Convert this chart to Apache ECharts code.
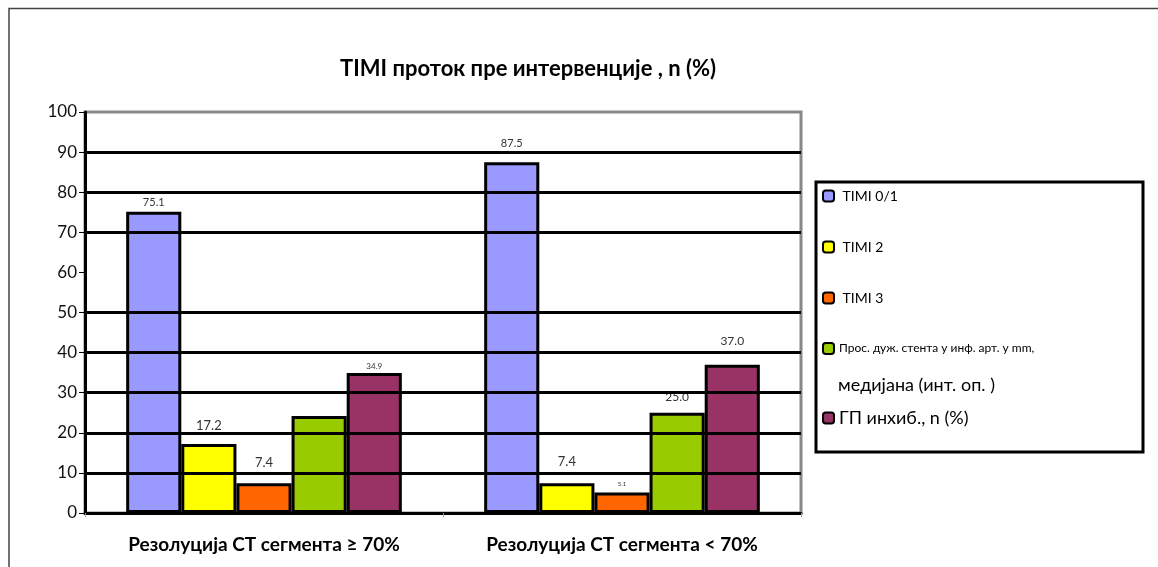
<!DOCTYPE html>
<html>
<head>
<meta charset="utf-8">
<script src="https://cdn.jsdelivr.net/npm/echarts@6/dist/echarts.min.js"></script>
<style>
    html, body { margin: 0; padding: 0; background: #fff; }
    #chart { width: 1158px; height: 567px; }
</style>
</head>
<body>
<div id="chart"></div>
<script>
// категорије на x оси
var categories = ['Резолуција СТ сегмента ≥ 70%', 'Резолуција СТ сегмента < 70%'];

// серије
var seriesNames = ['TIMI 0/1', 'TIMI 2', 'TIMI 3', 'Прос. дуж. стента у инф. арт. у mm,', 'ГП инхиб., n (%)'];
var timi01 = [75.1, 87.5];
var timi2 = [17.2, 7.4];
var timi3 = [7.4, 5.1];
var stentLength = [24.2, 25.0];
var gpInhib = [34.9, 37.0];

// y оса
var yMin = 0;
var yMax = 100;
var yStep = 10;
// хоризонталне линије (на 60 нема линије)
var gridValues = [10, 20, 30, 40, 50, 70, 80, 90];

var titleText = 'TIMI проток пре интервенције , n (%)';
var legendNote = 'медијана (инт. оп. )';

var FONT = 'Lato, "Noto Sans", sans-serif';
var colors = ['#9999ff', '#ffff00', '#ff6600', '#99cc00', '#993366'];
var allData = [timi01, timi2, timi3, stentLength, gpInhib];

// величина и размак ознака изнад стубића (серија x категорија)
var labelSize = [[11, 11], [13, 13], [13, 6], [0, 12], [8, 12]];
var labelDist = [[4, 13], [12, 15], [14, 5], [0, 10], [3, 18]];

var aoSeries = [];
for (var i = 0; i < allData.length; i++) {
    var adData = [];
    for (var j = 0; j < allData[i].length; j++) {
        adData.push({
            value: allData[i][j],
            label: {
                show: labelSize[i][j] > 0,
                fontSize: labelSize[i][j] || 10,
                distance: labelDist[i][j]
            }
        });
    }
    aoSeries.push({
        name: seriesNames[i],
        type: 'bar',
        data: adData,
        barGap: '0%',
        barCategoryGap: '23%',
        itemStyle: { color: colors[i], borderColor: '#000', borderWidth: 3 },
        label: {
            position: 'top',
            color: '#333',
            fontFamily: FONT,
            formatter: function (p) { return p.value.toFixed(1); }
        }
    });
}

// линије мреже преко стубића
var aoGridLines = [];
for (var k = 0; k < gridValues.length; k++) {
    aoGridLines.push({ yAxis: gridValues[k] });
}
aoSeries[aoSeries.length - 1].markLine = {
    silent: true,
    z: 10,
    symbol: 'none',
    label: { show: false },
    lineStyle: { color: '#000', width: 3, type: 'solid' },
    data: aoGridLines
};

// легенда
var aoLegendA = [];
for (var m = 0; m < 4; m++) {
    aoLegendA.push({
        name: seriesNames[m],
        textStyle: m < 3 ? { fontSize: 14 } : { fontSize: 12 }
    });
}

var oOption = {
    animation: false,
    backgroundColor: '#fff',
    title: {
        text: titleText,
        left: 335,
        top: 53,
        textStyle: { fontFamily: FONT, fontSize: 22, fontWeight: 'bold', color: '#000' }
    },
    legend: [
        {
            data: aoLegendA,
            orient: 'vertical',
            left: 822,
            top: 189,
            itemGap: 37,
            itemWidth: 11,
            itemHeight: 11,
            padding: 0,
            formatter: function (name) {
                return name.indexOf('TIMI') === 0 ? ' ' + name : name;
            },
            textStyle: { fontFamily: FONT, fontSize: 14, color: '#000' }
        },
        {
            data: seriesNames.slice(4),
            orient: 'vertical',
            left: 822,
            top: 409,
            itemWidth: 11,
            itemHeight: 11,
            padding: 0,
            textStyle: { fontFamily: FONT, fontSize: 18, color: '#000' }
        }
    ],
    grid: {
        left: 85,
        right: 357,
        top: 112,
        bottom: 54,
        show: true,
        borderColor: '#888',
        borderWidth: 3
    },
    xAxis: {
        type: 'category',
        data: categories,
        axisLine: { lineStyle: { color: '#000', width: 3 } },
        axisTick: { show: true, length: 4, lineStyle: { color: '#999', width: 1 } },
        axisLabel: { fontFamily: FONT, fontSize: 19, fontWeight: 'bold', color: '#000', margin: 22 },
        splitLine: { show: false }
    },
    yAxis: {
        type: 'value',
        min: yMin,
        max: yMax,
        interval: yStep,
        axisLine: { show: true, lineStyle: { color: '#000', width: 3 } },
        axisTick: { show: true, length: 6, lineStyle: { color: '#000', width: 1 } },
        axisLabel: { fontFamily: FONT, fontSize: 17, color: '#111', margin: 8 },
        splitLine: { show: false },
        minorSplitLine: { show: false }
    },
    graphic: [
        {
            type: 'polyline',
            shape: { points: [[9, 567], [9, 8.5], [1158, 8.5]] },
            style: { stroke: '#444', lineWidth: 1.5, fill: null },
            silent: true
        },
        {
            type: 'rect',
            shape: { x: 816, y: 182, width: 327, height: 270 },
            style: { stroke: '#000', lineWidth: 3, fill: null },
            silent: true
        },
        {
            type: 'text',
            left: 838,
            top: 376,
            style: { text: legendNote, font: '18px ' + FONT, fill: '#000' },
            silent: true
        }
    ],
    series: aoSeries
};

var oChart = echarts.init(document.getElementById('chart'));
oChart.setOption(oOption);
</script>
</body>
</html>
